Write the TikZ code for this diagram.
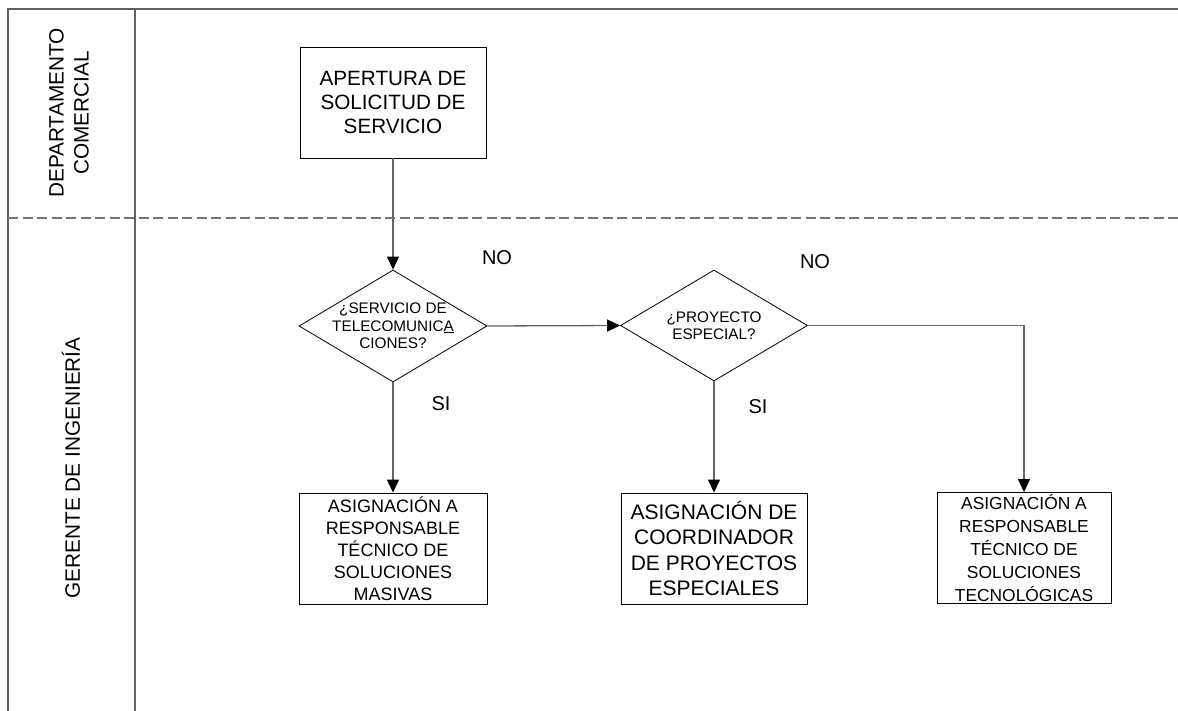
\documentclass[tikz,border=0pt]{standalone}
\usepackage{fontspec}
\setmainfont{Liberation Sans}
\usetikzlibrary{shapes.geometric,arrows.meta}
\begin{document}
\begin{tikzpicture}[x=1pt,y=-1pt,
  lane/.style={draw=black!62,line width=1.4pt},
  lanesep/.style={draw=black!55,line width=1.3pt,dash pattern=on 10pt off 4.5pt},
  procbox/.style={draw=black,line width=0.9pt,rectangle,align=center,inner sep=0pt},
  decision/.style={draw=black,line width=0.8pt,diamond,inner sep=0pt},
  qtext/.style={align=center,inner sep=0pt,font=\fontsize{15.3}{17.4}\selectfont},
  flow/.style={draw=black!60,line width=1.3pt,-{Triangle[length=13pt,width=12pt,black]}},
  lbl/.style={inner sep=0pt,font=\fontsize{20}{24}\selectfont},
  lanelbl/.style={rotate=90,align=center,inner sep=0pt,font=\fontsize{20.8}{25}\selectfont}]
\useasboundingbox (0,0) rectangle (1178,711);

% swimlane frame
\draw[lane] (8,711) -- (8,9) -- (1178,9);
\draw[lane] (135,9) -- (135,711);
\draw[lanesep] (8,218) -- (1178,218);

% lane titles
\node[lanelbl] (dept) at (69,113) {DEPARTAMENTO\\COMERCIAL};
\node[lanelbl] (ing) at (71,468) {GERENTE DE INGENIERÍA};

% process steps
\node[procbox,minimum width=186pt,minimum height=111pt,
      font=\fontsize{20.7}{24}\selectfont] (open) at (393,102.5)
      {APERTURA DE\\SOLICITUD DE\\SERVICIO};

\node[decision,minimum width=188pt,minimum height=112pt] (q1) at (393,326) {};
\node[qtext] (q1t) at (q1) {¿SERVICIO DE\\TELECOMUNIC\underline{A}\\CIONES?};

\node[decision,minimum width=187pt,minimum height=111pt] (q2) at (714,325.5) {};
\node[qtext] (q2t) at (q2) {¿PROYECTO\\ESPECIAL?};

\node[procbox,minimum width=188pt,minimum height=111pt,
      font=\fontsize{18}{22}\selectfont] (mas) at (393,548.5)
      {ASIGNACIÓN A\\RESPONSABLE\\TÉCNICO DE\\SOLUCIONES\\MASIVAS};

\node[procbox,minimum width=186pt,minimum height=111pt,
      font=\fontsize{21}{25.5}\selectfont] (coord) at (714,548.5)
      {ASIGNACIÓN DE\\COORDINADOR\\DE PROYECTOS\\ESPECIALES};

\node[procbox,minimum width=174pt,minimum height=111pt,
      font=\fontsize{17.4}{23}\selectfont] (tec) at (1024,548)
      {ASIGNACIÓN A\\RESPONSABLE\\TÉCNICO DE\\SOLUCIONES\\TECNOLÓGICAS};

% branch labels
\node[lbl] (no1) at (497,258) {NO};
\node[lbl] (no2) at (815,262) {NO};
\node[lbl] (si1) at (441,404) {SI};
\node[lbl] (si2) at (758,407) {SI};

% connectors
\draw[flow] (open.south) -- (q1.north);
\draw[flow] (q1.south) -- (mas.north);
\draw[flow] (q1.east) -- (q2.west);
\draw[flow] (q2.south) -- (coord.north);
\draw[flow] (q2.east) -| (tec.north);
\end{tikzpicture}
\end{document}
